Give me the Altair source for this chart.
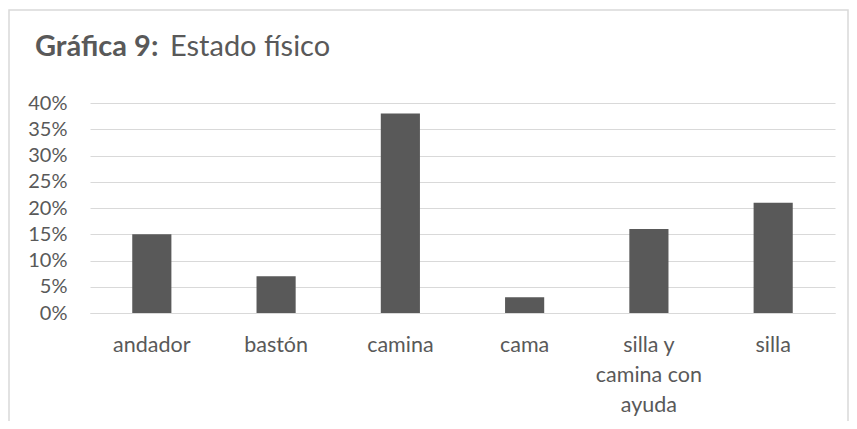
import altair as alt
import pandas as pd

categories = ["andador", "bastón", "camina", "cama", "silla y\ncamina con\nayuda", "silla"]
values = [0.15, 0.07, 0.38, 0.03, 0.16, 0.21]
y_ticks = [0, 0.05, 0.10, 0.15, 0.20, 0.25, 0.30, 0.35, 0.40]
title_bold = "Gráfica 9:"
title_rest = "Estado físico"

df = pd.DataFrame({"cat": categories, "val": values})
FONT = "Lato"
GRAY = "#595959"

bars = alt.Chart(df).mark_bar(color=GRAY).encode(
    x=alt.X("cat:N", sort=categories, title=None,
            scale=alt.Scale(paddingInner=0.685, paddingOuter=0.34),
            axis=alt.Axis(labelAngle=0, labelExpr="split(datum.label, '\\n')",
                          labelFontSize=21.5, labelColor=GRAY, labelFont=FONT,
                          labelPadding=21, labelLineHeight=30, ticks=False,
                          domainColor="#d9d9d9", labelBaseline="top")),
    y=alt.Y("val:Q", title=None, scale=alt.Scale(domain=[0, 0.4]),
            axis=alt.Axis(values=y_ticks, format=".0%", domain=False, ticks=False,
                          labelFontSize=20, labelColor=GRAY, labelFont=FONT,
                          labelPadding=23, gridColor="#d9d9d9")),
)

one = pd.DataFrame({"a": [0]})
frame = alt.Chart(one).mark_rect(fill="transparent", stroke="#d9d9d9", strokeWidth=1.5).encode(
    x=alt.value(-81), x2=alt.value(758), y=alt.value(-93), y2=alt.value(340))
t1 = alt.Chart(one).mark_text(text=title_bold, font=FONT, fontSize=29, fontWeight="bold",
                              color=GRAY, align="left", baseline="alphabetic").encode(
    x=alt.value(-55), y=alt.value(-47))
t2 = alt.Chart(one).mark_text(text=title_rest, font=FONT, fontSize=29,
                              color=GRAY, align="left", baseline="alphabetic").encode(
    x=alt.value(80), y=alt.value(-47))

chart = alt.layer(frame, bars, t1, t2).properties(
    width=745, height=210,
    autosize=alt.AutoSizeParams(type="none"),
    padding={"left": 82, "top": 95, "right": 14, "bottom": 108},
).configure_view(stroke=None)

chart.save("out.html", embed_options={"renderer": "svg", "actions": False})
